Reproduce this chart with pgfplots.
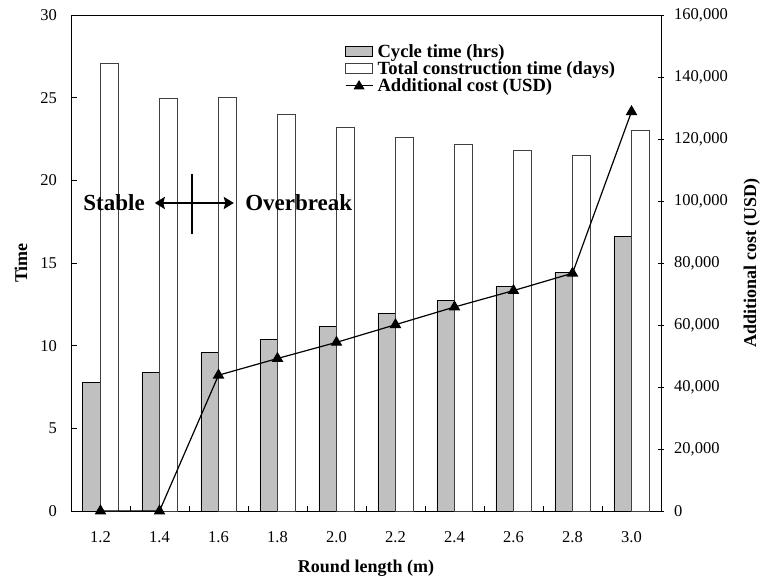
\documentclass[border=0pt]{standalone}
\usepackage{fontspec}
\setmainfont{Liberation Serif}
\usepackage{pgfplots}
\pgfplotsset{compat=1.18}
\usetikzlibrary{arrows.meta}
\definecolor{barsilver}{RGB}{192,192,192}
\newcommand{\tickfont}{\fontsize{16.5}{18}\selectfont}
\begin{document}
\begin{tikzpicture}
\pgfplotsset{
  every axis/.append style={
    scale only axis, width=590pt, height=496pt,
    xmin=-0.5, xmax=9.5,
    /pgf/number format/assume math mode=true,
    every tick label/.append style={font=\tickfont, inner sep=0pt},
    label style={font=\bfseries\fontsize{18}{20}\selectfont},
    axis line style={line width=0.9pt},
    tick style={line width=0.9pt, black},
  }
}
\begin{axis}[
  ymin=0, ymax=30, ytick={0,5,...,30},
  xtick={0,...,9},
  xticklabels={1.2,1.4,1.6,1.8,2.0,2.2,2.4,2.6,2.8,3.0},
  major x tick style={draw=none},
  minor xtick={-0.5,0.5,...,9.5},
  xtick pos=bottom, ytick pos=left,
  tick align=inside,
  major tick length=6pt, minor tick length=5pt,
  yticklabel style={font=\tickfont, anchor=east, xshift=-14pt},
  xticklabel style={font=\tickfont, anchor=north, yshift=-20pt},
  xlabel={Round length (m)}, ylabel={Time},
  xlabel style={at={(axis description cs:0.5,-0.115)}, anchor=center},
  ylabel style={at={(axis description cs:-0.085,0.5)}, anchor=center},
]
\addplot[ybar, bar width=0.3, bar shift=-0.15, fill=barsilver, draw=black, line width=0.6pt]
  coordinates {(0,7.8) (1,8.4) (2,9.6) (3,10.4) (4,11.15) (5,11.95) (6,12.75) (7,13.6) (8,14.45) (9,16.6)};
\addplot[ybar, bar width=0.3, bar shift=0.15, fill=white, draw=black!75, line width=0.8pt]
  coordinates {(0,27.1) (1,24.95) (2,25.0) (3,24.0) (4,23.2) (5,22.6) (6,22.15) (7,21.8) (8,21.5) (9,23.0)};
\node[anchor=east, font=\bfseries\fontsize{23}{25}\selectfont, inner sep=0pt] at (axis cs:0.754,18.63) {Stable};
\node[anchor=west, font=\bfseries\fontsize{23}{25}\selectfont, inner sep=0pt] at (axis cs:2.45,18.63) {Overbreak};
\draw[{Stealth[length=10pt,width=12pt,inset=1.5pt]}-{Stealth[length=10pt,width=12pt,inset=1.5pt]}, line width=2.5pt]
  (axis cs:0.92,18.63) -- (axis cs:2.26,18.63);
\draw[line width=2pt] (axis cs:1.55,20.39) -- (axis cs:1.55,16.76);
\end{axis}
\begin{axis}[
  ymin=0, ymax=160000, ytick={0,20000,...,160000},
  axis y line*=right, axis x line=none,
  scaled y ticks=false,
  /pgf/number format/1000 sep={,},
  /pgf/number format/fixed,
  tick align=center, major tick length=6pt,
  yticklabel style={font=\tickfont, anchor=west, xshift=10pt},
  ylabel={Additional cost (USD)},
  ylabel style={at={(axis description cs:1.154,0.5)}, anchor=center},
  clip=false,
  legend cell align=left,
  legend style={at={(axis description cs:0.464,0.9445)}, anchor=north west,
    draw=none, fill=none, inner sep=0pt, row sep=0pt,
    font=\bfseries\fontsize{18.6}{20}\selectfont,
    nodes={inner sep=1.4pt},
    /tikz/every odd column/.append style={column sep=3pt}},
]
\addlegendimage{legend image code/.code={\draw[fill=barsilver, draw=black, line width=0.6pt] (0pt,-5pt) rectangle (27pt,5pt);}}
\addlegendentry{Cycle time (hrs)}
\addlegendimage{legend image code/.code={\draw[fill=white, draw=black!75, line width=0.8pt] (0pt,-5pt) rectangle (27pt,5pt);}}
\addlegendentry{Total construction time (days)}
\addplot[black, line width=1.2pt, mark=triangle*, mark size=5.5pt,
  legend image code/.code={\draw[black, line width=1.2pt] (0pt,0pt) -- (27pt,0pt);
    \fill[black] (13.5pt,4.5pt) -- (9pt,-3pt) -- (18pt,-3pt) -- cycle;}]
  coordinates {(0,0) (1,0) (2,43800) (3,49200) (4,54400) (5,60100) (6,65800) (7,71100) (8,76700) (9,128800)};
\addlegendentry{Additional cost (USD)}
\end{axis}
\pgfresetboundingbox
\path (-71pt,-69pt) rectangle (691pt,511pt);
\end{tikzpicture}
\end{document}
